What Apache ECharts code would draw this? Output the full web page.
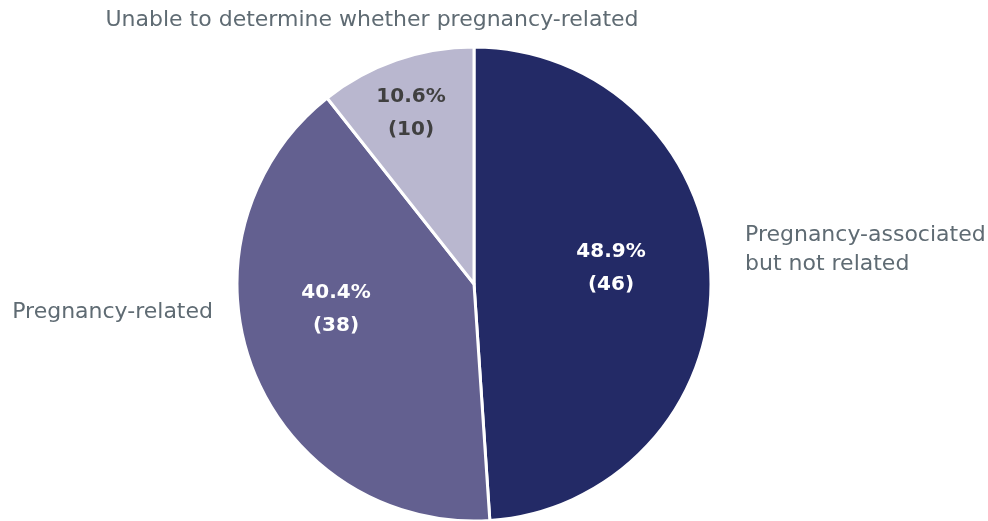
<!DOCTYPE html>
<html>
<head>
<meta charset="utf-8">
<script src="https://cdn.jsdelivr.net/npm/echarts@6/dist/echarts.min.js"></script>
<style>
html,body{margin:0;padding:0;background:#fff;}
#main{width:988px;height:521px;}
</style>
</head>
<body>
<div id="main"></div>
<script>
var categories = ["Pregnancy-associated\nbut not related", "Pregnancy-related", "Unable to determine whether pregnancy-related"];
var counts = [46, 38, 10];
var percents = ["48.9%", "40.4%", "10.6%"];
var sliceColors = ["#232a66", "#636090", "#b9b7cf"];
var innerColors = ["#ffffff", "#ffffff", "#404040"];

/*label positions*/
var innerPos = [[611, 268], [336, 309], [411, 113]];
var outerPos = [
    {x: 745, y: 250, align: "left"},
    {x: 213, y: 312, align: "right"},
    {x: 372, y: 20, align: "center"}
];

var chart = echarts.init(document.getElementById("main"));

var innerData = [];
var outerData = [];
for (var i = 0; i < counts.length; i++) {
    innerData.push({
        value: counts[i],
        name: categories[i],
        itemStyle: {color: sliceColors[i]},
        label: {color: innerColors[i], formatter: percents[i] + "\n(" + counts[i] + ")"}
    });
    outerData.push({value: counts[i], name: categories[i]});
}

var option = {
    backgroundColor: "#ffffff",
    animation: false,
    series: [
        {
            type: "pie",
            center: [474, 284],
            radius: 237,
            startAngle: 90,
            clockwise: true,
            itemStyle: {borderColor: "#ffffff", borderWidth: 3},
            label: {
                position: "inside",
                fontFamily: "DejaVu Sans",
                fontWeight: "bold",
                fontSize: 20,
                lineHeight: 33,
                align: "center"
            },
            labelLayout: function (p) {
                return {x: innerPos[p.dataIndex][0], y: innerPos[p.dataIndex][1], align: "center", verticalAlign: "middle"};
            },
            data: innerData
        },
        {
            type: "pie",
            center: [474, 284],
            radius: 237,
            startAngle: 90,
            clockwise: true,
            silent: true,
            z: 3,
            itemStyle: {color: "rgba(0,0,0,0)", borderWidth: 0},
            labelLine: {show: false},
            label: {
                position: "outside",
                fontFamily: "DejaVu Sans",
                fontSize: 22,
                lineHeight: 29,
                color: "#5f6b73",
                width: 700,
                overflow: "none"
            },
            labelLayout: function (p) {
                var o = outerPos[p.dataIndex];
                return {x: o.x, y: o.y, align: o.align, verticalAlign: "middle"};
            },
            data: outerData
        }
    ]
};
chart.setOption(option);
</script>
</body>
</html>
